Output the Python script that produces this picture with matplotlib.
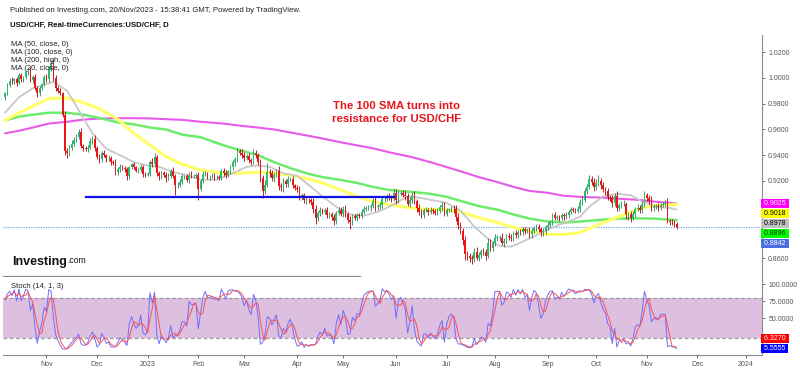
import numpy as np
import pandas as pd
import matplotlib
matplotlib.use("Agg")
import matplotlib.pyplot as plt
from matplotlib.transforms import blended_transform_factory

plt.rcParams["font.family"] = ["Liberation Sans", "DejaVu Sans"]

# ---- data ----
first_day = "2022-10-06"
last_day = "2024-01-12"
first_open = 0.9850

# daily closes, one row per Mon-Fri week (first row Thu/Fri, last row Mon 20 Nov)
closes = [
    0.9880, 0.9945,
    0.9980, 0.9975, 0.9990, 0.9965, 1.0020,
    0.9990, 1.0005, 1.0045, 1.0055, 0.9985,
    1.0010, 0.9925, 0.9880, 0.9920, 0.9950,
    1.0005, 0.9990, 1.0070, 1.0110, 1.0000,
    0.9925, 0.9900, 0.9880, 0.9715, 0.9435,
    0.9420, 0.9460, 0.9490, 0.9520, 0.9545,
    0.9580, 0.9475, 0.9455, 0.9445, 0.9460,
    0.9510, 0.9530, 0.9455, 0.9390, 0.9370,
    0.9415, 0.9400, 0.9375, 0.9380, 0.9345,
    0.9340, 0.9270, 0.9290, 0.9310, 0.9300,
    0.9290, 0.9235, 0.9305, 0.9330, 0.9305,
    0.9280, 0.9285, 0.9310, 0.9255, 0.9250,
    0.9255, 0.9345, 0.9330, 0.9390, 0.9260,
    0.9235, 0.9260, 0.9250, 0.9225, 0.9240,
    0.9280, 0.9240, 0.9170, 0.9170, 0.9195,
    0.9235, 0.9235, 0.9210, 0.9250, 0.9240,
    0.9240, 0.9245, 0.9140, 0.9200, 0.9255,
    0.9255, 0.9235, 0.9235, 0.9240, 0.9230,
    0.9230, 0.9225, 0.9275, 0.9265, 0.9245,
    0.9275, 0.9305, 0.9345, 0.9370, 0.9430,
    0.9420, 0.9405, 0.9375, 0.9395, 0.9360,
    0.9345, 0.9420, 0.9400, 0.9345, 0.9220,
    0.9125, 0.9170, 0.9270, 0.9260, 0.9220,
    0.9250, 0.9275, 0.9160, 0.9150, 0.9200,
    0.9175, 0.9215, 0.9215, 0.9165, 0.9145,
    0.9135, 0.9080, 0.9090, 0.9050, 0.9055,
    0.9050, 0.9040, 0.8985, 0.8910, 0.8950,
    0.8975, 0.8960, 0.8975, 0.8935, 0.8940,
    0.8920, 0.8890, 0.8950, 0.8975, 0.8945,
    0.8985, 0.8940, 0.8900, 0.8880, 0.8925,
    0.8915, 0.8935, 0.8930, 0.8960, 0.8985,
    0.8990, 0.8995, 0.9005, 0.9045, 0.8995,
    0.9005, 0.9015, 0.9060, 0.9060, 0.9080,
    0.9075, 0.9060, 0.9110, 0.9055, 0.9100,
    0.9110, 0.9095, 0.9080, 0.9025, 0.9055,
    0.9095, 0.9045, 0.8990, 0.8960, 0.8935,
    0.8975, 0.8975, 0.8960, 0.8975, 0.8965,
    0.8955, 0.8970, 0.8995, 0.9010, 0.8945,
    0.8975, 0.8980, 0.8985, 0.8980, 0.8920,
    0.8855, 0.8815, 0.8740, 0.8630, 0.8620,
    0.8600, 0.8595, 0.8650, 0.8605, 0.8625,
    0.8655, 0.8650, 0.8620, 0.8720, 0.8680,
    0.8715, 0.8760, 0.8760, 0.8760, 0.8720,
    0.8735, 0.8770, 0.8765, 0.8755, 0.8795,
    0.8780, 0.8805, 0.8800, 0.8825, 0.8815,
    0.8820, 0.8785, 0.8815, 0.8835, 0.8845,
    0.8825, 0.8800, 0.8810, 0.8840, 0.8860,
    0.8880, 0.8935, 0.8915, 0.8920, 0.8915,
    0.8935, 0.8925, 0.8935, 0.8960, 0.8980,
    0.8975, 0.8970, 0.8985, 0.9035, 0.9055,
    0.9125, 0.9155, 0.9215, 0.9195, 0.9150,
    0.9185, 0.9200, 0.9165, 0.9135, 0.9120,
    0.9075, 0.9065, 0.9030, 0.9085, 0.8990,
    0.9015, 0.9020, 0.9020, 0.8945, 0.8945,
    0.8915, 0.8945, 0.8985, 0.8990, 0.8975,
    0.9025, 0.9095, 0.9065, 0.9045, 0.8990,
    0.9000, 0.9005, 0.8995, 0.9015, 0.9020,
    0.9030, 0.8890, 0.8885, 0.8880, 0.8865,
    0.8842,
]

# upper / lower wicks beyond the body, in pips
wick_up = [
    15, 20,
    18, 25, 12, 20, 15,
    22, 14, 18, 25, 30,
    10, 20, 15, 18, 12,
    15, 25, 20, 30, 35,
    20, 15, 25, 15, 30,
    25, 20, 30, 18, 20,
    20, 35, 15, 20, 18,
    25, 20, 30, 15, 20,
    18, 25, 12, 20, 15,
    20, 30, 15, 20, 12,
    18, 22, 15, 10, 20,
    8, 15, 20, 18, 15,
    12, 20, 30, 25, 15,
    20, 15, 18, 22, 20,
    15, 25, 12, 20, 18,
    20, 15, 22, 18, 25,
    15, 20, 25, 18, 20,
    25, 18, 15, 20, 22,
    15, 20, 18, 25, 20,
    12, 18, 15, 20, 25,
    20, 30, 18, 15, 20,
    15, 25, 20, 18, 25,
    30, 35, 70, 20, 25,
    18, 20, 40, 25, 20,
    15, 20, 18, 25, 15,
    20, 25, 15, 18, 20,
    15, 20, 25, 30, 18,
    20, 15, 18, 25, 20,
    18, 22, 15, 20, 25,
    20, 30, 18, 25, 20,
    15, 20, 18, 22, 20,
    18, 15, 20, 25, 30,
    20, 18, 15, 22, 20,
    25, 20, 35, 30, 20,
    15, 20, 25, 30, 18,
    20, 25, 18, 30, 20,
    15, 20, 18, 22, 15,
    20, 18, 15, 25, 30,
    15, 12, 20, 25, 35,
    30, 25, 20, 30, 25,
    20, 25, 30, 35, 20,
    18, 25, 20, 40, 30,
    20, 25, 18, 20, 35,
    20, 15, 25, 20, 18,
    22, 18, 20, 15, 20,
    18, 25, 20, 15, 20,
    22, 20, 25, 18, 20,
    15, 20, 25, 18, 15,
    20, 18, 22, 15, 20,
    18, 15, 20, 22, 25,
    20, 25, 30, 20, 25,
    30, 45, 20, 25, 18,
    25, 20, 30, 20, 35,
    15, 25, 30, 20, 18,
    20, 25, 15, 30, 20,
    20, 25, 15, 25, 40,
    18, 20, 25, 15, 18,
    20, 40, 15, 20, 18,
    15,
]
wick_dn = [
    20, 15,
    15, 20, 18, 25, 12,
    20, 18, 15, 20, 15,
    25, 15, 30, 20, 15,
    12, 20, 18, 15, 20,
    25, 20, 15, 20, 30,
    40, 25, 20, 15, 20,
    18, 20, 25, 15, 20,
    15, 20, 25, 18, 30,
    20, 15, 25, 18, 22,
    15, 25, 20, 18, 15,
    20, 25, 18, 15, 12,
    10, 20, 15, 25, 20,
    15, 20, 18, 25, 20,
    25, 18, 20, 30, 15,
    20, 15, 80, 25, 18,
    15, 20, 18, 25, 20,
    20, 15, 85, 20, 15,
    20, 18, 25, 15, 20,
    18, 20, 15, 25, 20,
    15, 20, 18, 25, 20,
    20, 25, 18, 15, 20,
    20, 15, 25, 20, 30,
    55, 25, 20, 30, 20,
    25, 20, 30, 25, 35,
    20, 25, 18, 20, 15,
    20, 25, 30, 20, 25,
    20, 25, 30, 45, 20,
    25, 20, 18, 25, 20,
    20, 30, 25, 18, 20,
    25, 20, 30, 50, 20,
    20, 25, 18, 20, 15,
    20, 18, 25, 15, 30,
    18, 20, 25, 20, 15,
    20, 25, 18, 30, 25,
    20, 18, 25, 20, 30,
    25, 20, 30, 25, 20,
    20, 18, 25, 15, 20,
    18, 20, 15, 25, 20,
    20, 15, 18, 25, 30,
    25, 30, 35, 40, 30,
    30, 40, 25, 20, 25,
    20, 25, 30, 20, 25,
    25, 20, 30, 25, 20,
    30, 20, 25, 18, 20,
    20, 25, 18, 20, 25,
    20, 25, 30, 18, 20,
    20, 30, 25, 20, 18,
    20, 25, 18, 20, 25,
    20, 25, 18, 20, 15,
    15, 20, 18, 25, 20,
    20, 25, 18, 30, 25,
    20, 25, 30, 20, 25,
    25, 20, 30, 25, 20,
    20, 25, 18, 40, 50,
    30, 20, 25, 18, 20,
    20, 25, 18, 20, 25,
    20, 15, 25, 18, 20,
    15, 20, 25, 18, 20,
    15,
]

# moving averages, sampled at bar numbers
ma_bars = [0, 6, 12, 19, 27, 34, 41, 49, 56, 63, 70, 77, 85, 95, 102, 110, 117, 124,
           131, 138, 146, 153, 160, 167, 177, 185, 192, 199, 206, 214, 221, 228, 236,
           243, 250, 260, 267, 275, 282, 292]
ma50 = [0.967, 0.973, 0.978, 0.984, 0.9845, 0.981, 0.976, 0.968, 0.957, 0.948, 0.939,
        0.933, 0.9285, 0.926, 0.926, 0.927, 0.926, 0.9246, 0.922, 0.9185, 0.913, 0.908,
        0.904, 0.9015, 0.899, 0.8977, 0.8977, 0.8954, 0.8915, 0.8877, 0.884, 0.881,
        0.8785, 0.8785, 0.880, 0.8877, 0.8923, 0.898, 0.901, 0.9018]
ma100 = [0.967, 0.970, 0.9715, 0.973, 0.973, 0.9715, 0.969, 0.9655, 0.964, 0.9615, 0.960,
         0.956, 0.954, 0.9477, 0.944, 0.940, 0.9346, 0.930, 0.926, 0.923, 0.9208, 0.9185,
         0.9154, 0.913, 0.9115, 0.910, 0.9077, 0.904, 0.9005, 0.8977, 0.894, 0.8908,
         0.8885, 0.8877, 0.8885, 0.890, 0.8908, 0.891, 0.8908, 0.8896]
ma200 = [0.957, 0.959, 0.9615, 0.9646, 0.966, 0.9677, 0.9685, 0.9688, 0.9688, 0.9686,
         0.968, 0.9675, 0.966, 0.9646, 0.963, 0.9615, 0.960, 0.9577, 0.9554, 0.953, 0.950,
         0.9477, 0.9454, 0.9423, 0.9385, 0.9346, 0.9308, 0.927, 0.923, 0.9192, 0.9154,
         0.9123, 0.9108, 0.9085, 0.9077, 0.907, 0.9062, 0.9054, 0.904, 0.9025]
ma20_bars = [0, 6, 12, 21, 27, 33, 38, 44, 50, 56, 62, 67, 73, 79, 85, 92, 99, 105, 110,
             115, 121, 127, 133, 138, 144, 150, 156, 162, 167, 175, 180, 186, 192, 198,
             204, 210, 215, 220, 224, 230, 236, 241, 247, 250, 254, 260, 266, 272, 277,
             283, 289, 292]
ma20 = [0.973, 0.985, 0.992, 0.997, 0.990, 0.972, 0.957, 0.945, 0.940, 0.9346, 0.932,
        0.931, 0.927, 0.9245, 0.921, 0.921, 0.926, 0.931, 0.932, 0.931, 0.926, 0.924,
        0.9155, 0.908, 0.900, 0.894, 0.893, 0.896, 0.900, 0.908, 0.907, 0.905, 0.903,
        0.897, 0.8846, 0.875, 0.8695, 0.8690, 0.872, 0.877, 0.8823, 0.886, 0.890, 0.8923,
        0.900, 0.908, 0.910, 0.909, 0.904, 0.900, 0.899, 0.8978]

ma_names = ["MA (50, close, 0)", "MA (100, close, 0)", "MA (200, high, 0)", "MA (20, close, 0)"]

price_tags = ["0.9025", "0.9018", "0.8978", "0.8896", "0.8842"]
tag_colors = ["#ff00ff", "#ffff00", "#c0c0c0", "#00ff00", "#4a6fe3"]
tag_text = ["white", "black", "black", "#003300", "white"]

stoch_tags = ["6.3270", "5.5555"]
stoch_tag_colors = ["#ff0000", "#0000ff"]

support_level = 0.9077
support_from = "2022-11-24"
support_to = "2023-05-31"

price_ticks = [0.86, 0.92, 0.94, 0.96, 0.98, 1.00, 1.02]
stoch_ticks = [50, 75, 100]

# ---- derived series ----
dates = pd.bdate_range(first_day, last_day)
c = np.array(closes)
x = np.arange(len(c))
o = np.r_[first_open, c[:-1]]
h = np.maximum(o, c) + np.array(wick_up) * 1e-4
l = np.minimum(o, c) - np.array(wick_dn) * 1e-4

# Stoch (14, 1, 3)
hh = pd.Series(h).rolling(14, min_periods=1).max().to_numpy()
ll = pd.Series(l).rolling(14, min_periods=1).min().to_numpy()
k = 100 * (c - ll) / (hh - ll)
d = pd.Series(k).rolling(3, min_periods=1).mean().to_numpy()

# ---- figure ----
W, H = 800, 370
fig = plt.figure(figsize=(W / 100, H / 100), dpi=100)


def frame(left, top, right, bottom):
    return [left / W, 1 - bottom / H, (right - left) / W, (bottom - top) / H]


def fx(px):
    return px / W


def fy(py):
    return 1 - py / H


ax = fig.add_axes(frame(3, 35, 762, 276))
ax2 = fig.add_axes(frame(3, 277, 762, 355), sharex=ax)

axis_grey = "#8c8c8c"
tick_grey = "#555555"

# moving averages behind the candles
ax.plot(ma_bars, ma200, color="#e85ae8", lw=1.5, solid_capstyle="round", zorder=2)
ax.plot(ma_bars, ma100, color="#6ceb6c", lw=1.8, solid_capstyle="round", zorder=2)
ax.plot(ma_bars, ma50, color="#ffff66", lw=2.2, solid_capstyle="round", zorder=2)
ax.plot(ma20_bars, ma20, color="#c8c8c8", lw=1.3, solid_capstyle="round", zorder=2)

# candles
up = c >= o
body_lo = np.minimum(o, c)
body_h = np.maximum(np.abs(c - o), 0.00025)
ax.vlines(x[up], l[up], h[up], color="#2f7f55", lw=0.6, zorder=3)
ax.vlines(x[~up], l[~up], h[~up], color="#b40000", lw=0.6, zorder=3)
ax.bar(x[up], body_h[up], bottom=body_lo[up], width=0.7, color="#26c373", lw=0, zorder=4)
ax.bar(x[~up], body_h[~up], bottom=body_lo[~up], width=0.7, color="#f01414", lw=0, zorder=4)

# support line and last price line
i0 = dates.get_loc(pd.Timestamp(support_from))
i1 = dates.get_loc(pd.Timestamp(support_to))
ax.plot([i0, i1], [support_level, support_level], color="#1212e0", lw=1.6, zorder=5)
ax.axhline(c[-1], color="#7fa7f0", lw=0.9, ls=(0, (1, 1)), zorder=1)

ax.set_xlim(-0.9, 329.1)
ax.set_ylim(0.8462, 1.0334)
for side in ["top", "left", "bottom"]:
    ax.spines[side].set_visible(False)
ax.spines["right"].set_color(axis_grey)
ax.yaxis.tick_right()
ax.set_yticks(price_ticks)
ax.set_yticklabels([f"{t:.4f}" for t in price_ticks])
ax.tick_params(axis="y", labelsize=5, colors=tick_grey, length=2.5, width=0.6, pad=2)
ax.tick_params(axis="x", bottom=False, labelbottom=False)
ax.plot([0, 0.47], [0, 0], transform=ax.transAxes, color=axis_grey, lw=0.9, clip_on=False)

# right-hand value tags, stacked downward from the top one
tr = blended_transform_factory(ax.transAxes, ax.transData)
for n, (txt, fc, tc) in enumerate(zip(price_tags, tag_colors, tag_text)):
    ax.annotate(" " + txt + " ", xy=(1, float(price_tags[0])), xycoords=tr,
                xytext=(0, -10 * n), textcoords="offset pixels",
                ha="left", va="center", fontsize=5, color=tc, annotation_clip=False,
                bbox=dict(boxstyle="square,pad=0.15", fc=fc, ec="none"), zorder=10)

# annotation
ax.text(0.518, 0.68, "The 100 SMA turns into\nresistance for USD/CHF", transform=ax.transAxes,
        ha="center", va="center", color="#e8141c", fontsize=8.2, fontweight="bold",
        linespacing=1.35)

# stochastic panel
ax2.axhspan(20, 80, color="#ddbfdf", lw=0, zorder=0)
for lvl in (20, 80):
    ax2.axhline(lvl, color="#9a9a9a", lw=0.9, ls=(0, (3, 2)), zorder=1)
ax2.plot(x, k, color="#6e6eff", lw=0.7, zorder=3)
ax2.plot(x, d, color="#ff5050", lw=0.7, zorder=3)
ax2.set_ylim(-4.4, 110.3)
ax2.spines["top"].set_visible(False)
ax2.spines["left"].set_visible(False)
ax2.spines["right"].set_color(axis_grey)
ax2.spines["bottom"].set_color(axis_grey)
ax2.yaxis.tick_right()
ax2.set_yticks(stoch_ticks)
ax2.set_yticklabels([f"{t:.4f}" for t in stoch_ticks])
ax2.tick_params(axis="y", labelsize=5, colors=tick_grey, length=2.5, width=0.6, pad=2)

tr2 = blended_transform_factory(ax2.transAxes, ax2.transData)
base = float(stoch_tags[-1])
for n, (txt, fc) in enumerate(zip(stoch_tags[::-1], stoch_tag_colors[::-1])):
    ax2.annotate(" " + txt + " ", xy=(1, base), xycoords=tr2,
                 xytext=(0, 10 * n), textcoords="offset pixels",
                 ha="left", va="center", fontsize=5, color="white", annotation_clip=False,
                 bbox=dict(boxstyle="square,pad=0.15", fc=fc, ec="none"), zorder=10)

# month ticks at the first bar of each month
months = dates.to_period("M")
starts = np.flatnonzero(np.r_[True, months[1:] != months[:-1]])[1:]
labels = [str(dates[i].year) if dates[i].month == 1 else dates[i].strftime("%b") for i in starts]
ax2.set_xticks(starts)
ax2.set_xticklabels(labels)
ax2.tick_params(axis="x", labelsize=5, colors=tick_grey, length=2.5, width=0.6, pad=2)

# header, legends, logo
fig.text(fx(10), fy(10), "Published on Investing.com, 20/Nov/2023 - 15:38:41 GMT, Powered by TradingView.",
         fontsize=5.6, color="#222222", va="center")
fig.text(fx(10), fy(25), "USD/CHF, Real-timeCurrencies:USD/CHF, D",
         fontsize=5.6, fontweight="bold", color="#111111", va="center")
for n, name in enumerate(ma_names):
    fig.text(fx(11), fy(44 + 8 * n), name, fontsize=5.5, color="#222222", va="center", zorder=20)
fig.text(fx(11), fy(286), "Stoch (14, 1, 3)", fontsize=5.5, color="#222222", va="center", zorder=20)

logo = fig.text(fx(12), fy(262), "Investing", fontsize=9, fontweight="bold", color="#111111",
                va="center")
ax.annotate(".com", xy=(1, 0.22), xycoords=logo, fontsize=6.2, color="#111111",
            va="bottom", ha="left", annotation_clip=False)

fig.savefig("out.png", dpi=100)
